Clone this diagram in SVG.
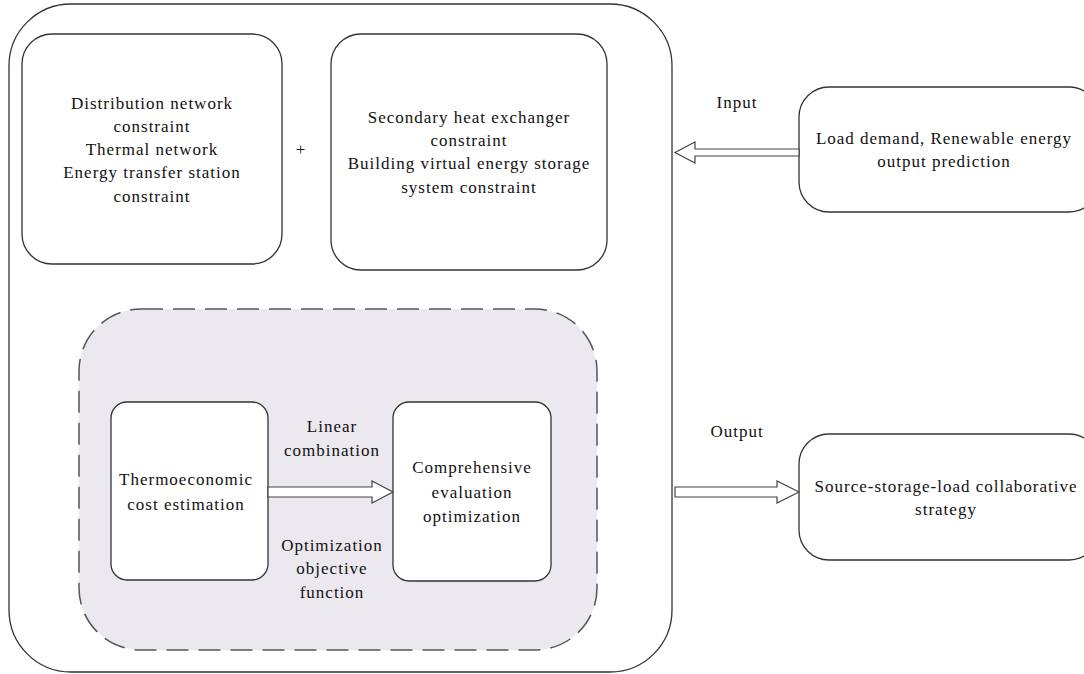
<svg xmlns="http://www.w3.org/2000/svg" width="1084" height="674" viewBox="0 0 1084 674">
<style>
.box{fill:#fff;stroke:#333;stroke-width:1.3}
.dash{fill:#ebe8f0;stroke:#555;stroke-width:1.5;stroke-dasharray:22 10}
.arr{fill:#fff;stroke:#444;stroke-width:1.2}
text{font-family:"Liberation Serif","Times New Roman",serif;font-size:17px;letter-spacing:1px;fill:#111;text-anchor:middle}
</style>
<rect width="1084" height="674" fill="#fff"/>
<g id="outer"><rect class="box" x="9" y="4" width="663" height="668" rx="62"/></g>
<g id="distribution"><rect class="box" x="22" y="34" width="260" height="230" rx="30"/>
<text x="152" y="109">Distribution network</text>
<text x="152" y="132">constraint</text>
<text x="152" y="155">Thermal network</text>
<text x="152" y="178">Energy transfer station</text>
<text x="152" y="202">constraint</text></g>
<g id="plus"><text x="301" y="155">+</text></g>
<g id="secondary"><rect class="box" x="331" y="34" width="276" height="236" rx="30"/>
<text x="469" y="123">Secondary heat exchanger</text>
<text x="469" y="146">constraint</text>
<text x="469" y="169">Building virtual energy storage</text>
<text x="469" y="193">system constraint</text></g>
<g id="optregion"><rect class="dash" x="79" y="309" width="518" height="341" rx="62"/></g>
<g id="thermo"><rect class="box" x="111" y="402" width="157" height="178" rx="16"/>
<text x="186" y="485">Thermoeconomic</text>
<text x="186" y="510">cost estimation</text></g>
<g id="comprehensive"><rect class="box" x="393" y="402" width="158" height="179" rx="16"/>
<text x="472" y="473">Comprehensive</text>
<text x="472" y="498">evaluation</text>
<text x="472" y="522">optimization</text></g>
<g id="load"><rect class="box" x="799" y="87" width="300" height="125" rx="30"/>
<text x="944" y="144">Load demand, Renewable energy</text>
<text x="944" y="167">output prediction</text></g>
<g id="strategy"><rect class="box" x="799" y="434" width="300" height="126" rx="30"/>
<text x="946" y="492">Source-storage-load collaborative</text>
<text x="946" y="515">strategy</text></g>
<g id="connectors">
<path class="arr" d="M799 149 H695 V142 L675 152.5 L695 163 V156 H799 Z"/>
<path class="arr" d="M675 487 H777 V481 L799 492 L777 503 V497 H675 Z"/>
<path class="arr" d="M268 487 H372 V481 L393 492 L372 503 V497 H268 Z"/>
<text x="737" y="108">Input</text>
<text x="737" y="437">Output</text>
<text x="332" y="432">Linear</text>
<text x="332" y="456">combination</text>
<text x="332" y="551">Optimization</text>
<text x="332" y="574">objective</text>
<text x="332" y="598">function</text>
</g>
</svg>
